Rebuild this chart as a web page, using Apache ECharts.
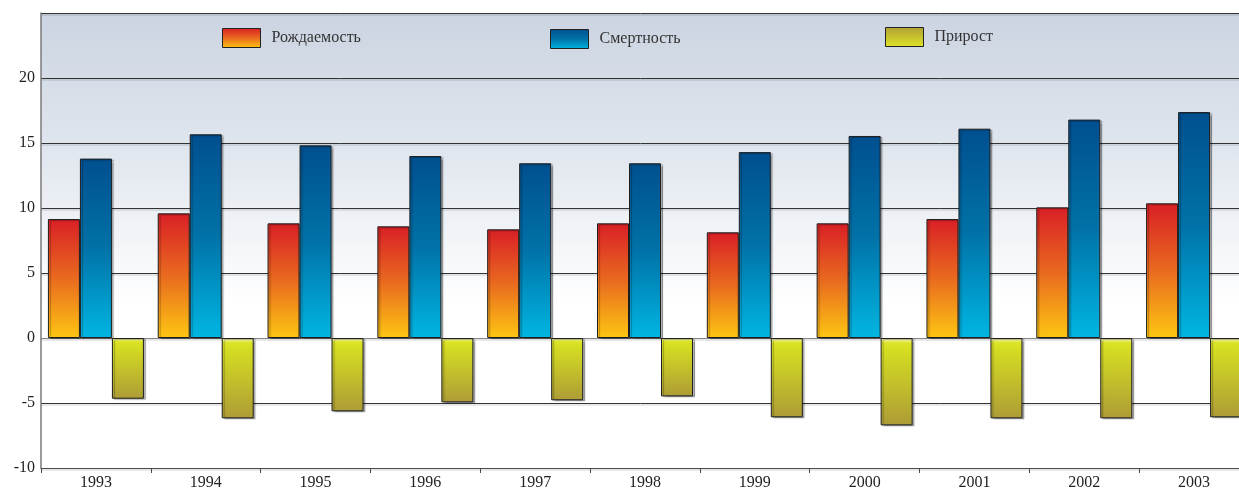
<!DOCTYPE html>
<html>
<head>
<meta charset="utf-8">
<script src="https://cdn.jsdelivr.net/npm/echarts@6/dist/echarts.min.js"></script>
<style>
  html, body { margin: 0; padding: 0; background: #ffffff; }
  #chart { width: 1239px; height: 489px; }
</style>
</head>
<body>
<div id="chart"></div>
<script>
// Годы
const years = ['1993', '1994', '1995', '1996', '1997', '1998', '1999', '2000', '2001', '2002', '2003'];
// Рождаемость, на 1000 человек
const birthRate = [9.15, 9.59, 8.82, 8.59, 8.36, 8.82, 8.13, 8.82, 9.15, 10.05, 10.36];
// Смертность, на 1000 человек
const deathRate = [13.8, 15.67, 14.82, 14.0, 13.44, 13.44, 14.3, 15.54, 16.1, 16.8, 17.38];
// Естественный прирост
const growth = [-4.67, -6.18, -5.64, -4.95, -4.79, -4.49, -6.1, -6.72, -6.18, -6.18, -6.1];
// Подписи шкалы значений
const yTicks = [-10, -5, 0, 5, 10, 15, 20];

const FONT = "'Liberation Serif', 'DejaVu Serif', serif";

function vGrad(stops) {
  return new echarts.graphic.LinearGradient(0, 0, 0, 1,
    stops.map(s => ({ offset: s[0], color: s[1] })));
}

const redFill = () => vGrad([[0, '#d91f26'], [0.5, '#e96a1f'], [1, '#fdc612']]);
const blueFill = () => vGrad([[0, '#004f8f'], [0.5, '#0072a8'], [1, '#00b6e2']]);
const olivFill = () => vGrad([[0, '#f4f5d4'], [0.06, '#dde426'], [0.15, '#d4dc22'], [1, '#ad9c36']]);
const olivLegend = () => vGrad([[0, '#b0a034'], [1, '#dde428']]);

const barShadow = {
  borderColor: '#1e1e1e',
  borderWidth: 1,
  shadowColor: 'rgba(0,0,0,0.28)',
  shadowBlur: 1,
  shadowOffsetX: 2,
  shadowOffsetY: 1
};

const chart = echarts.init(document.getElementById('chart'), null, { renderer: 'canvas' });

const legendBase = {
  top: 28,
  padding: 0,
  icon: 'rect',
  itemWidth: 38,
  itemHeight: 19,
  textStyle: { fontFamily: FONT, fontSize: 16, color: '#333', padding: [0, 0, 0, 6] },
  selectedMode: false
};

chart.setOption({
  animation: false,
  textStyle: { fontFamily: FONT },
  grid: {
    left: 41,
    width: 1208,
    top: 13,
    bottom: 21,
    containLabel: false,
    outerBoundsMode: 'none',
    show: true,
    borderWidth: 0,
    backgroundColor: vGrad([[0, '#cbd4e1'], [0.3, '#e0e6ee'], [0.64, '#ffffff'], [1, '#ffffff']])
  },
  legend: [
    Object.assign({}, legendBase, {
      left: 222,
      data: [{ name: 'Рождаемость', itemStyle: { color: redFill(), borderColor: '#222', borderWidth: 1 } }]
    }),
    Object.assign({}, legendBase, {
      left: 550, top: 29,
      data: [{ name: 'Смертность', itemStyle: { color: blueFill(), borderColor: '#222', borderWidth: 1 } }]
    }),
    Object.assign({}, legendBase, {
      left: 885, top: 27,
      data: [{ name: 'Прирост', itemStyle: { color: olivLegend(), borderColor: '#222', borderWidth: 1 } }]
    })
  ],
  xAxis: {
    type: 'category',
    data: years,
    axisLine: { onZero: false, lineStyle: { color: '#4a4a4a', width: 1 } },
    axisTick: { show: true, length: 5, lineStyle: { color: '#4a4a4a' } },
    axisLabel: { fontFamily: FONT, fontSize: 16, color: '#222', margin: 7 },
    splitLine: { show: false }
  },
  yAxis: {
    type: 'value',
    min: -10,
    max: 25,
    interval: 5,
    axisLine: { show: true, lineStyle: { color: '#7a7a7a', width: 1.5 } },
    axisTick: { show: false },
    axisLabel: {
      fontFamily: FONT, fontSize: 16, color: '#222', margin: 6,
      formatter: v => (yTicks.indexOf(v) >= 0 ? String(v) : '')
    },
    splitLine: {
      show: true,
      lineStyle: {
        color: ['#4a4a4a', '#333333', '#858585', '#333333', '#333333', '#333333', '#333333', '#333333'],
        width: 1,
        shadowColor: 'rgba(0,0,0,0.18)',
        shadowOffsetY: 1.5
      }
    }
  },
  series: [
    {
      name: 'Рождаемость',
      type: 'bar',
      data: birthRate,
      barWidth: 32,
      barGap: '0%',
      itemStyle: Object.assign({ color: redFill() }, barShadow)
    },
    {
      name: 'Смертность',
      type: 'bar',
      data: deathRate,
      barWidth: 32,
      barGap: '0%',
      itemStyle: Object.assign({ color: blueFill() }, barShadow)
    },
    {
      name: 'Прирост',
      type: 'bar',
      data: growth,
      barWidth: 32,
      barGap: '0%',
      itemStyle: Object.assign({ color: olivFill() }, barShadow)
    }
  ]
});
</script>
</body>
</html>
